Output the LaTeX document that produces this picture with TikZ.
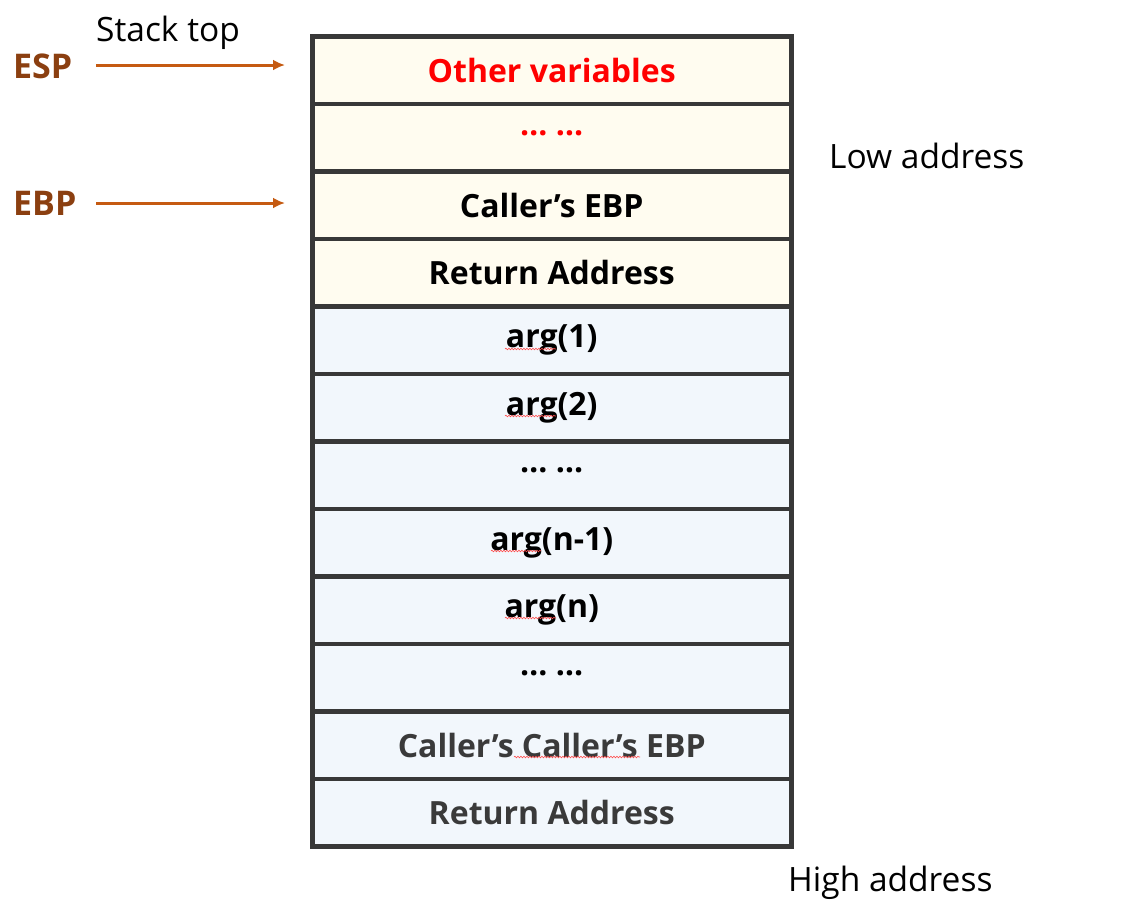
\documentclass[tikz,border=0pt]{standalone}
\usepackage{fontspec}
\setmainfont{Open Sans}
\usetikzlibrary{decorations.pathmorphing,arrows.meta}
\definecolor{cream}{HTML}{FFFCF0}
\definecolor{pale}{HTML}{F2F7FC}
\definecolor{frame}{HTML}{383838}
\definecolor{reg}{HTML}{8B3F10}
\definecolor{arrc}{HTML}{C55A11}
\definecolor{gtext}{HTML}{3A3A3A}
\definecolor{redt}{HTML}{FF0000}
\tikzset{
  x=1pt,y=-1pt,
  cell/.style={draw=frame,line width=4.5pt,minimum width=479pt,minimum height=67.5pt,
    inner sep=0pt,anchor=north west,font=\fontsize{32}{36}\selectfont\bfseries},
  top/.style={cell,fill=cream},
  low/.style={cell,fill=pale},
  reglabel/.style={font=\fontsize{34}{38}\selectfont\bfseries,text=reg,anchor=west,inner sep=0pt},
  plain/.style={font=\fontsize{33.5}{38}\selectfont,anchor=west,inner sep=0pt},
  ptr/.style={draw=arrc,line width=3pt,-{Latex[length=12pt,width=11pt]}},
  squig/.style={draw=red!70,line width=0.6pt,decorate,decoration={snake,amplitude=0.8pt,segment length=3pt}}
}
\newcommand{\dotsrow}{\raisebox{0.28em}{\ldots\ \ldots}}
\begin{document}
\begin{tikzpicture}
\useasboundingbox (0,0) rectangle (1141,906);
\node[top,text=redt] (r1) at (310,34) {Other variables};
\node[top,text=redt] (r2) at (310,101.5) {\dotsrow};
\node[top] (r3) at (310,169) {Caller’s EBP};
\node[top] (r4) at (310,236.5) {Return Address};
\node[low] (r5) at (310,304) {arg(1)};
\node[low] (r6) at (310,371.5) {arg(2)};
\node[low] (r7) at (310,439) {\dotsrow};
\node[low] (r8) at (310,506.5) {arg(n-1)};
\node[low] (r9) at (310,574) {arg(n)};
\node[low] (r10) at (310,641.5) {\dotsrow};
\node[low,text=gtext] (r11) at (310,709) {Caller’s Caller’s EBP};
\node[low,text=gtext] (r12) at (310,776.5) {Return Address};

\node[reglabel] (esp) at (13,66) {ESP};
\node[reglabel] (ebp) at (13,203) {EBP};
\node[plain] (stacktop) at (96,33) {Stack top};
\node[plain] (low) at (829,156) {Low address};
\node[plain] (high) at (788,883) {High address};

\coordinate (espend) at (285,65);
\coordinate (ebpend) at (285,203);
\coordinate (esps) at (96,65);
\coordinate (ebps) at (96,203);
\draw[ptr] (esps) -- (espend);
\draw[ptr] (ebps) -- (ebpend);

\draw[squig] (505,349) -- (556,349);
\draw[squig] (505,416) -- (556,416);
\draw[squig] (491,551) -- (541,551);
\draw[squig] (505,618) -- (556,618);
\draw[squig] (514,757) -- (640,757);
\end{tikzpicture}
\end{document}
